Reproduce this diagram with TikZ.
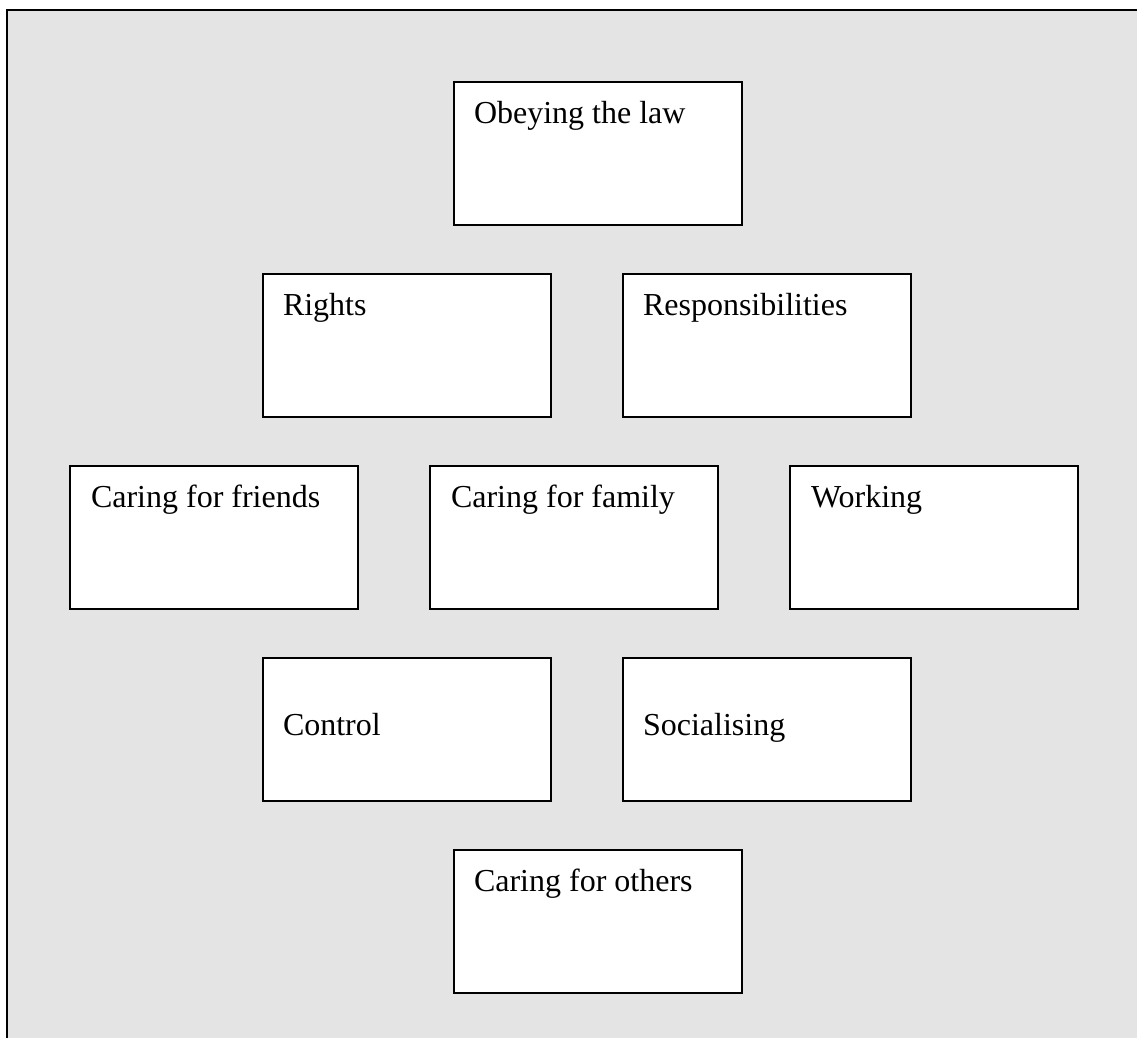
\documentclass[tikz,border=0pt]{standalone}
\usepackage{fontspec}
\setmainfont{Liberation Serif}
\definecolor{panel}{HTML}{E4E4E4}
\begin{document}
\begin{tikzpicture}[x=0.375pt,y=-0.375pt,
  box/.style={draw=black, fill=white, line width=0.7pt, rectangle,
    minimum width=108pt, minimum height=53.6pt, inner sep=0pt, outer sep=0pt,
    anchor=north west},
  lbl/.style={anchor=base west, inner sep=0pt, outer sep=0pt,
    font=\fontsize{12}{14}\selectfont}]
  % page and shaded panel
  \useasboundingbox (0,0) rectangle (1137,1038);
  \fill[white] (0,0) rectangle (1137,1038);
  \fill[panel] (7,10) rectangle (1137,1038);
  \draw[line width=1.1pt] (7,1038) -- (7,10) -- (1137,10);

  % boxes
  \node[box] (obey)   at (454,82)  {};
  \node[box] (rights) at (263,274) {};
  \node[box] (resp)   at (623,274) {};
  \node[box] (friends) at (70,466) {};
  \node[box] (family) at (430,466) {};
  \node[box] (work)   at (790,466) {};
  \node[box] (control) at (263,658) {};
  \node[box] (social) at (623,658) {};
  \node[box] (others) at (454,850) {};

  % captions
  \node[lbl] (tobey)    at ([shift={(20,41)}]obey.north west) {Obeying the law};
  \node[lbl] (trights)  at ([shift={(20,41)}]rights.north west) {Rights};
  \node[lbl] (tresp)    at ([shift={(20,41)}]resp.north west) {Responsibilities};
  \node[lbl] (tfriends) at ([shift={(21,41)}]friends.north west) {Caring for friends};
  \node[lbl] (tfamily)  at ([shift={(21,41)}]family.north west) {Caring for family};
  \node[lbl] (twork)    at ([shift={(21,41)}]work.north west) {Working};
  \node[lbl] (tcontrol) at ([shift={(20,77)}]control.north west) {Control};
  \node[lbl] (tsocial)  at ([shift={(20,77)}]social.north west) {Socialising};
  \node[lbl] (tothers)  at ([shift={(20,41)}]others.north west) {Caring for others};
\end{tikzpicture}
\end{document}
